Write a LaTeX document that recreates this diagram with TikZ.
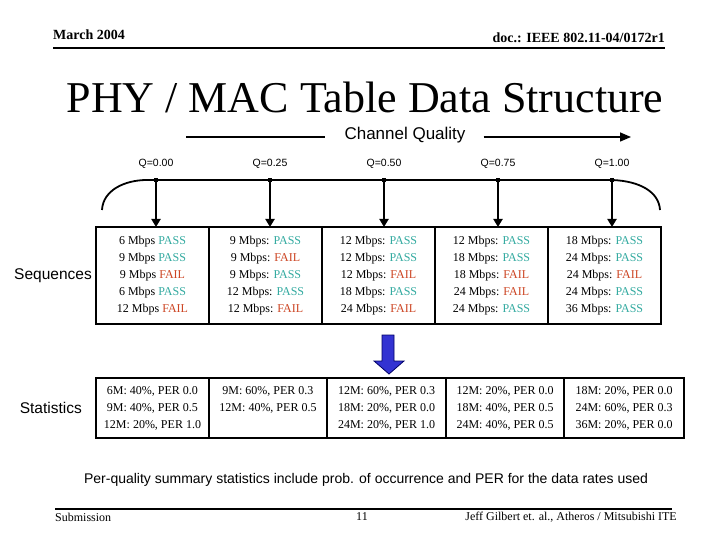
\documentclass[tikz,border=0pt]{standalone}
\usepackage{fontspec}
\setmainfont{Liberation Serif}
\setsansfont{Liberation Sans}
\usetikzlibrary{arrows.meta, positioning}

\definecolor{passgreen}{RGB}{51,170,160}
\definecolor{failred}{RGB}{204,68,34}
\definecolor{arrowblue}{RGB}{51,51,210}
\newcommand{\pass}{\textcolor{passgreen}{PASS}}
\newcommand{\fail}{\textcolor{failred}{FAIL}}

\begin{document}
\begin{tikzpicture}[
    x=1pt, y=-1pt,
    header/.style={font=\fontsize{14}{16}\selectfont\bfseries, inner sep=0pt},
    footer/.style={font=\fontsize{12}{14}\selectfont, inner sep=0pt},
    qlabel/.style={font=\sffamily\fontsize{10.5}{12}\selectfont, inner sep=0pt},
    tick/.style={rectangle, fill=black, minimum size=4pt, inner sep=0pt},
    seqcell/.style={rectangle, draw, line width=1.5pt, outer sep=0pt, inner sep=0pt, minimum width=113pt, minimum height=97pt, align=center, font=\fontsize{12}{17}\selectfont},
    statcell/.style={rectangle, draw, line width=1.5pt, outer sep=0pt, inner sep=0pt, minimum height=60pt, align=center, font=\fontsize{12}{17}\selectfont},
    rowlabel/.style={font=\sffamily\fontsize{15.5}{18}\selectfont, inner sep=0pt},
    arrow/.style={-{Triangle[length=8pt, width=9pt]}, line width=2pt},
]
\useasboundingbox (0,0) rectangle (720,540);

% Header
\node[header, anchor=west] (date) at (53,35) {March 2004};
\node[header, anchor=east] (doc) at (665,38) {doc.: IEEE 802.11-04/0172r1};
\draw[line width=2pt] (53,48) -- (665,48);
\node[font=\fontsize{44}{50}\selectfont] (title) at (365,97) {PHY / MAC Table Data Structure};

% Channel quality axis
\node[font=\sffamily\fontsize{17}{20}\selectfont, inner sep=0pt] (cq) at (405,135) {Channel Quality};
\coordinate (cqleft) at (186,137);
\coordinate (cqright) at (631,137);
\draw[line width=1.5pt] (cqleft) -- ([xshift=-19pt]cq.west |- cqleft);
\draw[line width=1.5pt, -{Triangle[length=11pt, width=9pt]}] ([xshift=18pt]cq.east |- cqright) -- (cqright);

\node[tick] (p0) at (156,180) {};
\node[tick] (p1) at (270,180) {};
\node[tick] (p2) at (384,180) {};
\node[tick] (p3) at (498,180) {};
\node[tick] (p4) at (612,180) {};
\draw[line width=1.8pt] (102,210) .. controls (103,190) and (125,180) .. (147,180) -- (p4.center)
    .. controls (640,181) and (659,192) .. (660,210);

\node[qlabel, above=9pt of p0] (q0) {Q=0.00};
\node[qlabel, above=9pt of p1] (q1) {Q=0.25};
\node[qlabel, above=9pt of p2] (q2) {Q=0.50};
\node[qlabel, above=9pt of p3] (q3) {Q=0.75};
\node[qlabel, above=9pt of p4] (q4) {Q=1.00};

% Sequences
\node[seqcell] (s0) at (152.5,275.5) {6 Mbps \pass\\9 Mbps \pass\\9 Mbps \fail\\6 Mbps \pass\\12 Mbps \fail};
\node[seqcell, right=0pt of s0] (s1) {9 Mbps: \pass\\9 Mbps: \fail\\9 Mbps: \pass\\12 Mbps: \pass\\12 Mbps: \fail};
\node[seqcell, right=0pt of s1] (s2) {12 Mbps: \pass\\12 Mbps: \pass\\12 Mbps: \fail\\18 Mbps: \pass\\24 Mbps: \fail};
\node[seqcell, right=0pt of s2] (s3) {12 Mbps: \pass\\18 Mbps: \pass\\18 Mbps: \fail\\24 Mbps: \fail\\24 Mbps: \pass};
\node[seqcell, right=0pt of s3] (s4) {18 Mbps: \pass\\24 Mbps: \pass\\24 Mbps: \fail\\24 Mbps: \pass\\36 Mbps: \pass};
\draw[line width=2.5pt] (s0.north west) rectangle (s4.south east);
\node[rowlabel, left=4pt of s0] (seqlabel) {Sequences};

\draw[arrow] (p0) -- (p0 |- s0.north);
\draw[arrow] (p1) -- (p1 |- s1.north);
\draw[arrow] (p2) -- (p2 |- s2.north);
\draw[arrow] (p3) -- (p3 |- s3.north);
\draw[arrow] (p4) -- (p4 |- s4.north);

% Summary arrow
\draw[fill=arrowblue, draw=black!60!blue, line width=0.8pt] (382,335) -- (394,335) -- (394,361) -- (404,361)
    -- (389,374) -- (374,361) -- (382,361) -- cycle;

% Statistics
\node[statcell, minimum width=113pt] (t0) at (152.5,408) {6M: 40\%, PER 0.0\\9M: 40\%, PER 0.5\\12M: 20\%, PER 1.0};
\node[statcell, minimum width=118pt, right=0pt of t0] (t1) {9M: 60\%, PER 0.3\\12M: 40\%, PER 0.5\\\mbox{}};
\node[statcell, minimum width=119pt, right=0pt of t1] (t2) {12M: 60\%, PER 0.3\\18M: 20\%, PER 0.0\\24M: 20\%, PER 1.0};
\node[statcell, minimum width=118pt, right=0pt of t2] (t3) {12M: 20\%, PER 0.0\\18M: 40\%, PER 0.5\\24M: 40\%, PER 0.5};
\node[statcell, minimum width=120pt, right=0pt of t3] (t4) {18M: 20\%, PER 0.0\\24M: 60\%, PER 0.3\\36M: 20\%, PER 0.0};
\draw[line width=2.5pt] (t0.north west) rectangle (t4.south east);
\node[rowlabel, left=14pt of t0] (statlabel) {Statistics};

% Caption and footer
\node[font=\sffamily\fontsize{14}{16}\selectfont, inner sep=0pt] (caption) at (366,480) {Per-quality summary statistics include prob. of occurrence and PER for the data rates used};
\draw[line width=2pt] (55,509) -- (672,509);
\node[footer, anchor=west] (sub) at (55,517) {Submission};
\node[footer] (page) at (362,517) {11};
\node[footer, anchor=east] (author) at (677,517) {Jeff Gilbert et. al., Atheros /  Mitsubishi ITE};

\end{tikzpicture}
\end{document}
